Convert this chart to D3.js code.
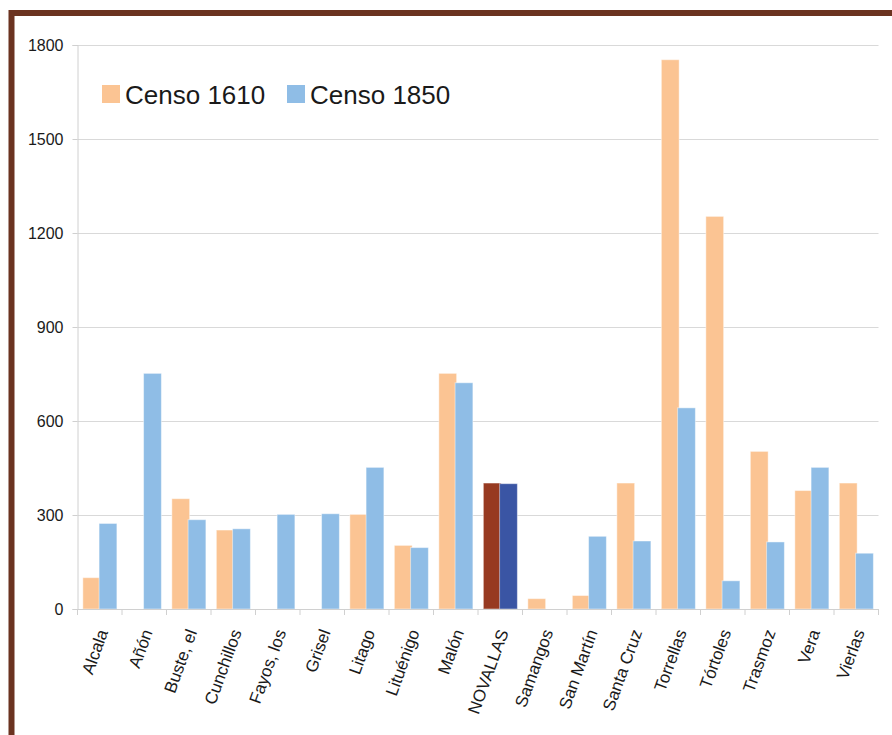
<!DOCTYPE html>
<html>
<head>
<meta charset="utf-8">
<script src="https://cdn.jsdelivr.net/npm/d3@7/dist/d3.min.js"></script>
<style>
html,body{margin:0;padding:0;background:#fff;}
svg{display:block;}
text{font-family:"Liberation Sans",Arial,sans-serif;fill:#1a1a1a;}
</style>
</head>
<body>
<svg id="chart" width="892" height="735"></svg>
<script>
const categories = ["Alcala","Añón","Buste, el","Cunchillos","Fayos, los","Grisel","Litago","Lituénigo","Malón","NOVALLAS","Samangos","San Martín","Santa Cruz","Torrellas","Tórtoles","Trasmoz","Vera","Vierlas"];
const censo1610 = [100,0,352,252,0,0,302,203,752,402,33,43,402,1753,1253,503,378,402];
const censo1850 = [273,752,285,256,302,304,452,196,722,400,0,232,217,642,90,214,452,178];
const yTicks = [0,300,600,900,1200,1500,1800];
const seriesNames = ["Censo 1610","Censo 1850"];

(function(){
const svg = d3.select("#chart");
const mL = 77.5, mR = 878.5, mT = 45, mB = 609;

// frame
svg.append("rect").attr("x",11.5).attr("y",13).attr("width",920).attr("height",800)
  .attr("fill","#fff").attr("stroke","#6b3320").attr("stroke-width",6);

const x = d3.scaleBand().domain(categories).range([mL,mR]).paddingInner(0).paddingOuter(0);
const y = d3.scaleLinear().domain([0,1800]).range([mB,mT]);

// gridlines
svg.append("g").selectAll("line").data(yTicks.filter(d=>d>0)).join("line")
  .attr("x1",mL).attr("x2",mR)
  .attr("y1",d=>Math.round(y(d))+0.5).attr("y2",d=>Math.round(y(d))+0.5)
  .attr("stroke","#d9d9d9").attr("stroke-width",1);

// bars
const bw = x.bandwidth();
const barW = bw*0.40;
const off1 = bw*0.12, off2 = bw*0.12 + bw*0.365;
const colors = {o:"#fbc493", b:"#8fbde6", od:"#973a21", bd:"#3a55a4"};
const g = svg.append("g");
categories.forEach((c,i)=>{
  const v1 = censo1610[i], v2 = censo1850[i];
  const hl = c==="NOVALLAS";
  if(v1>0) g.append("rect").attr("x",x(c)+off1).attr("width",barW)
    .attr("y",y(v1)).attr("height",y(0)-y(v1))
    .attr("fill",hl?colors.od:colors.o).attr("stroke","rgba(255,255,255,0.45)").attr("stroke-width",1);
  if(v2>0) g.append("rect").attr("x",x(c)+off2).attr("width",barW)
    .attr("y",y(v2)).attr("height",y(0)-y(v2))
    .attr("fill",hl?colors.bd:colors.b).attr("stroke","rgba(255,255,255,0.45)").attr("stroke-width",1);
});

// y axis
const yAxis = d3.axisLeft(y).tickValues(yTicks).tickSize(5).tickPadding(9).tickFormat(d3.format("d"));
const ya = svg.append("g").attr("transform",`translate(${mL},0)`).call(yAxis);
ya.select(".domain").attr("stroke","#d0d0d0");
ya.selectAll(".tick line").attr("stroke","#d0d0d0");
ya.selectAll(".tick text").attr("font-size",16).attr("fill","#1a1a1a").style("font-family","'Liberation Sans',Arial,sans-serif");

// x axis
const xa = svg.append("g").attr("transform",`translate(0,${mB})`);
xa.append("line").attr("x1",mL).attr("x2",mR).attr("y1",0.5).attr("y2",0.5).attr("stroke","#d0d0d0");
const tickPos = categories.map(c=>x(c)).concat([mR]);
xa.selectAll("line.t").data(tickPos).join("line").attr("class","t")
  .attr("x1",d=>d).attr("x2",d=>d).attr("y1",0).attr("y2",6).attr("stroke","#d0d0d0");
xa.selectAll("text").data(categories).join("text")
  .attr("transform",c=>`translate(${x(c)+bw/2+3},${21}) rotate(-70)`)
  .attr("text-anchor","end").attr("dy","0.35em")
  .attr("font-size",17).text(d=>d);

// legend
const lg = svg.append("g");
const legendX = [102, 287];
seriesNames.forEach((s,i)=>{
  lg.append("rect").attr("x",legendX[i]).attr("y",85).attr("width",18).attr("height",18)
    .attr("fill",i===0?colors.o:colors.b);
  lg.append("text").attr("x",legendX[i]+23).attr("y",104).attr("font-size",26).text(s);
});
})();
</script>
</body>
</html>
